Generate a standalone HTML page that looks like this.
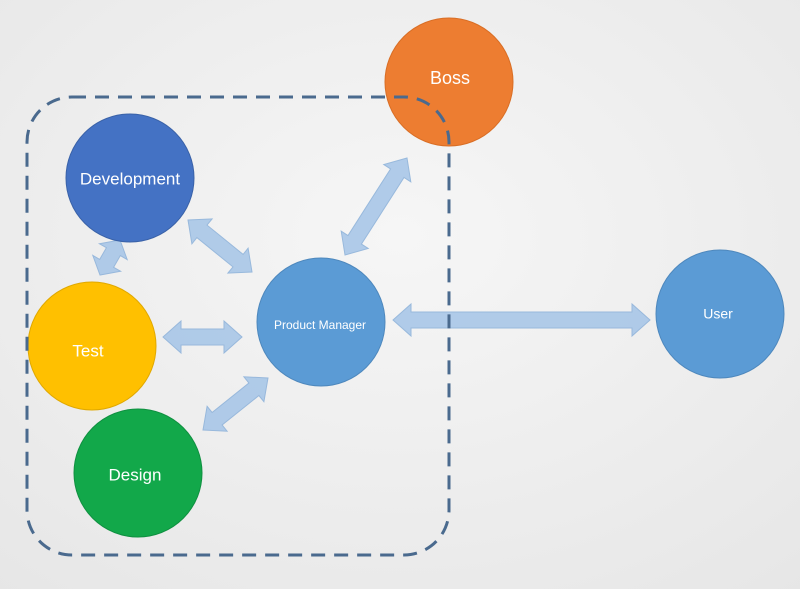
<!DOCTYPE html>
<html><head><meta charset="utf-8"><style>
body{margin:0;width:800px;height:589px;overflow:hidden;background:#efefef;}
svg{display:block}
text{font-family:"Liberation Sans",sans-serif;fill:#fff;text-anchor:middle;dominant-baseline:middle}
</style></head><body>
<svg id="s" width="800" height="589" viewBox="0 0 800 589">
<defs><radialGradient id="bg" cx="0.5" cy="0.4" r="0.8"><stop offset="0" stop-color="#f6f6f6"/><stop offset="1" stop-color="#e6e6e6"/></radialGradient></defs>
<rect width="800" height="589" fill="url(#bg)"/>
<g id="arrows"></g>
<circle cx="130" cy="178" r="64" fill="#4472c4" stroke="#3a62a8" stroke-width="1"/>
<circle cx="92" cy="346" r="64" fill="#ffc000" stroke="#e0a800" stroke-width="1"/>
<circle cx="138" cy="473" r="64" fill="#12a84a" stroke="#0f9040" stroke-width="1"/>
<circle cx="321" cy="322" r="64" fill="#5b9bd5" stroke="#4e88bd" stroke-width="1"/>
<circle cx="449" cy="82" r="64" fill="#ed7d31" stroke="#d96e25" stroke-width="1"/>
<circle cx="720" cy="314" r="64" fill="#5b9bd5" stroke="#4e88bd" stroke-width="1"/>
<rect x="27" y="97" width="422" height="458" rx="45" fill="none" stroke="#4a6a8e" stroke-width="3" stroke-dasharray="14,9"/>
<text x="130" y="180" font-size="17">Development</text>
<text x="88" y="352" font-size="17">Test</text>
<text x="135" y="476" font-size="17">Design</text>
<text x="320" y="326" font-size="12">Product Manager</text>
<text x="450" y="79" font-size="18">Boss</text>
<text x="718" y="315" font-size="14">User</text>
</svg>
<script>
function arr(x1,y1,x2,y2){
 var dx=x2-x1,dy=y2-y1,L=Math.hypot(dx,dy),ux=dx/L,uy=dy/L,nx=-uy,ny=ux;
 var s=8,h=16,hl=Math.min(18,L/3);
 function p(t,o){return (x1+ux*t+nx*o).toFixed(1)+","+(y1+uy*t+ny*o).toFixed(1);}
 var pts=[p(0,0),p(hl,h),p(hl,s),p(L-hl,s),p(L-hl,h),p(L,0),p(L-hl,-h),p(L-hl,-s),p(hl,-s),p(hl,-h)];
 return '<polygon points="'+pts.join(" ")+'" fill="#a9c7e8" stroke="#8fb3da" stroke-width="1" opacity="0.9"/>';
}
document.getElementById("arrows").innerHTML=
 arr(188,220,252,272)+arr(407,158,345,255)+arr(163,337,242,337)+arr(203,430,268,378)+arr(120,240,100,275)+arr(393,320,650,320);
</script>
</body></html>
